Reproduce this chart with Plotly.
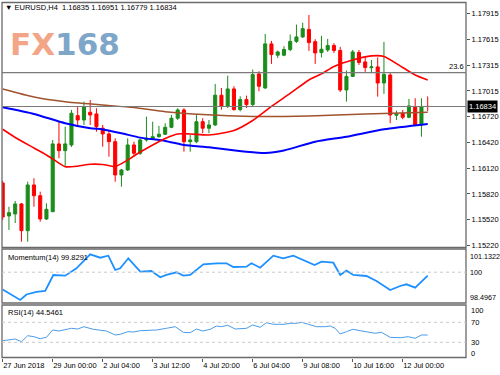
import plotly.graph_objects as go

# ---------------- data ----------------
bars = list(range(69))
opens = [1.15947,1.15565,1.15588,1.15704,1.15394,1.15924,1.15800,1.15530,1.15614,1.16400,
         1.16322,1.16388,1.16728,1.16678,1.16767,1.16748,1.16582,1.16516,1.16426,1.16040,
         1.16098,1.16388,1.16292,1.16446,1.16461,1.16484,1.16512,1.16593,1.16698,1.16794,
         1.16426,1.16426,1.16658,1.16582,1.16620,1.16965,1.16837,1.17038,1.16798,1.16914,
         1.16856,1.17212,1.17049,1.17560,1.17429,1.17429,1.17494,1.17589,1.17641,1.17728,
         1.17586,1.17459,1.17490,1.17542,1.17484,1.17026,1.17183,1.17461,1.17351,1.17284,
         1.17293,1.17107,1.17200,1.16733,1.16754,1.16709,1.16832,1.16620,1.16835]
highs = [1.15971,1.15672,1.15739,1.15715,1.15962,1.16002,1.15846,1.15712,1.16446,1.16658,
         1.16600,1.16794,1.16832,1.16890,1.16910,1.16814,1.16620,1.16562,1.16466,1.16110,
         1.16466,1.16426,1.16466,1.16716,1.16658,1.16609,1.16640,1.16736,1.16814,1.16814,
         1.16504,1.16736,1.16698,1.16678,1.17096,1.17049,1.17192,1.17069,1.16953,1.16960,
         1.17262,1.17243,1.17676,1.17595,1.17482,1.17533,1.17668,1.17784,1.17806,1.17896,
         1.17614,1.17653,1.17618,1.17568,1.17525,1.17252,1.17490,1.17490,1.17409,1.17374,
         1.17403,1.17583,1.17220,1.16786,1.16794,1.16922,1.16930,1.16930,1.16951]
lows = [1.15518,1.15402,1.15483,1.15266,1.15266,1.15672,1.15498,1.15518,1.15611,1.16234,
        1.16136,1.16365,1.16620,1.16620,1.16620,1.16542,1.16368,1.16252,1.15962,1.15904,
        1.16087,1.16252,1.16272,1.16426,1.16446,1.16473,1.16504,1.16582,1.16678,1.16310,
        1.16310,1.16408,1.16524,1.16524,1.16609,1.16798,1.16817,1.16786,1.16779,1.16817,
        1.16837,1.17011,1.17038,1.17328,1.17397,1.17417,1.17475,1.17571,1.17629,1.17479,
        1.17328,1.17403,1.17467,1.17455,1.17003,1.16890,1.17177,1.17316,1.17235,1.17220,
        1.16948,1.16980,1.16640,1.16678,1.16686,1.16698,1.16609,1.16484,1.16779]
closes = [1.15553,1.15603,1.15704,1.15394,1.15924,1.15800,1.15530,1.15642,1.16400,1.16322,
          1.16400,1.16756,1.16678,1.16832,1.16736,1.16600,1.16516,1.16426,1.16040,1.16098,
          1.16388,1.16292,1.16446,1.16466,1.16484,1.16512,1.16593,1.16698,1.16794,1.16426,
          1.16446,1.16658,1.16582,1.16620,1.16965,1.16837,1.17038,1.16798,1.16914,1.16856,
          1.17204,1.17069,1.17560,1.17436,1.17467,1.17496,1.17589,1.17641,1.17737,1.17575,
          1.17455,1.17498,1.17542,1.17484,1.17026,1.17183,1.17467,1.17345,1.17287,1.17293,
          1.17107,1.17206,1.16736,1.16748,1.16709,1.16841,1.16620,1.16832,1.16834]

red_ma_bar = [0,2,5,7,8,10,12,14,16,18,20,22,24,26,28,30,33,37,40,43,46,49,51,53,56,59,61,64,66,68]
red_ma_val = [1.16570,1.16475,1.16353,1.16272,1.16226,1.16136,1.16142,1.16164,1.16162,1.16139,
              1.16214,1.16307,1.16388,1.16464,1.16516,1.16516,1.16504,1.16556,1.16672,1.16835,
              1.16986,1.17142,1.17212,1.17299,1.17374,1.17421,1.17415,1.17287,1.17200,1.17142]
brown_ma_bar = [0,5,10,16,21,26,32,40,49,58,68]
brown_ma_val = [1.17038,1.16945,1.16890,1.16852,1.16821,1.16774,1.16740,1.16719,1.16725,1.16748,1.16767]
blue_ma_bar = [0,5,10,14,16,19,22,26,29,33,39,42,45,50,55,61,68]
blue_ma_val = [1.16825,1.16748,1.16640,1.16582,1.16568,1.16524,1.16473,1.16435,1.16388,1.16361,
               1.16310,1.16295,1.16324,1.16426,1.16484,1.16570,1.16632]

mom_bar = [0,1.2,2.8,3.8,5.4,6.8,8.1,10,11.8,14,15.6,16.9,18,18.8,20.1,22,23.8,25.2,26.2,27.8,
           28.9,30,32.1,34.2,35.8,36.9,39,39.8,41.2,43.3,44.9,46.5,48.6,49.9,51,52.9,54,55,56.1,
           58.2,59.8,62,63.6,64.6,66,68]
mom_val = [99.156,98.937,98.644,98.913,99.035,99.084,99.864,99.830,100.191,100.874,100.708,
           100.805,100.108,100.191,100.679,100.025,100.059,99.752,99.864,99.996,99.830,99.864,
           100.386,100.435,100.435,100.254,100.269,100.435,100.220,100.805,100.679,100.805,
           100.547,100.352,100.513,100.464,99.864,100.074,99.864,99.815,99.571,99.132,99.327,
           99.410,99.244,99.8291]

rsi_bar = [0,1,2,3,4,5,6,7,8,9,11,12,13,14.5,16.6,18,18.8,20,21,22,24.6,26.2,27.6,28.9,30,31,
           32,33.2,34.2,35,36,37.2,39,40,41.2,42.2,43.3,45,46,47,47.8,48.9,50.2,51.6,52.4,53.2,
           54,55,56,57.2,58.5,59.6,60.6,62,63.6,64.9,66,67,68]
rsi_val = [33.2,34.6,36.6,31.2,43.2,41.2,37.2,40.0,54.6,52.6,58.0,56.6,61.2,56.0,52.6,44.6,46.0,
           51.2,50.6,53.2,54.6,58.0,61.2,50.0,49.2,56.6,52.6,56.0,62.6,61.2,64.0,56.6,58.0,64.6,
           60.0,69.2,66.0,66.0,68.0,68.0,70.0,66.0,61.2,61.2,62.6,58.0,46.6,51.2,56.0,53.2,51.2,
           48.0,50.0,40.0,39.2,41.2,38.0,44.6,44.5461]

price_ticks = [1.17915,1.17615,1.17315,1.17015,1.16720,1.16420,1.16120,1.15820,1.15520,1.15220]
date_tick_bars = [0,8,16,24,32,40,48,56,64]
date_tick_labels = ["27 Jun 2018","29 Jun 00:00","2 Jul 04:00","3 Jul 12:00","4 Jul 20:00",
                    "6 Jul 04:00","9 Jul 08:00","10 Jul 16:00","12 Jul 00:00"]
header_text = "EURUSD,H4  1.16835 1.16951 1.16779 1.16834"
last_price_text = "1.16834"
last_price = 1.16834
fib_level = 1.17227
fib_label = "23.6"
mom_title = "Momentum(14) 99.8291"
rsi_title = "RSI(14) 44.5461"
mom_labels = ["101.1322", "100", "98.4967"]
mom_min, mom_max, mom_mid = 98.4967, 101.1322, 100
rsi_levels = [70, 30]
rsi_labels = ["100", "70", "30", "0"]

# ---------------- layout helpers ----------------
W, H = 500, 375
def px_x(p): return p / W
def px_y(p): return 1 - p / H

X0, X1 = 2, 466
MAIN = (2.5, 247.5)
MOM = (249, 303)
RSI = (305, 357.5)
FONT = "Liberation Sans, Arial, sans-serif"
FS = 7.5

fig = go.Figure()
fig.add_trace(go.Candlestick(
    x=bars, open=opens, high=highs, low=lows, close=closes,
    increasing=dict(line=dict(color="#1b8c1b", width=1), fillcolor="#1b8c1b"),
    decreasing=dict(line=dict(color="#ff0000", width=1), fillcolor="#ff0000"),
    whiskerwidth=0, xaxis="x", yaxis="y", showlegend=False, hoverinfo="skip"))
fig.add_trace(go.Scatter(x=brown_ma_bar, y=brown_ma_val, mode="lines", line=dict(color="#a0522d", width=1.5, shape="spline", smoothing=0.6), xaxis="x", yaxis="y", showlegend=False))
fig.add_trace(go.Scatter(x=blue_ma_bar, y=blue_ma_val, mode="lines", line=dict(color="#0000ff", width=2, shape="spline", smoothing=0.6), xaxis="x", yaxis="y", showlegend=False))
fig.add_trace(go.Scatter(x=red_ma_bar, y=red_ma_val, mode="lines", line=dict(color="#ff0000", width=1.6, shape="spline", smoothing=0.6), xaxis="x", yaxis="y", showlegend=False))
fig.add_trace(go.Scatter(x=mom_bar, y=mom_val, mode="lines", line=dict(color="#1e90ff", width=1.8), xaxis="x2", yaxis="y2", showlegend=False))
fig.add_trace(go.Scatter(x=rsi_bar, y=rsi_val, mode="lines", line=dict(color="#4a9be8", width=1), xaxis="x3", yaxis="y3", showlegend=False))

xr = [(X0 - 2.7) / 6.25, (X1 - 2.7) / 6.25]
xdom = [px_x(X0), px_x(X1)]
base_x = dict(domain=xdom, range=xr, showgrid=False, zeroline=False, showline=False, fixedrange=True)
axis_font = dict(family=FONT, size=FS, color="#000000")

fig.update_layout(
    width=W, height=H, margin=dict(l=0, r=0, t=0, b=0),
    paper_bgcolor="white", plot_bgcolor="white", showlegend=False,
    xaxis=dict(**base_x, anchor="y", showticklabels=False, ticks="", rangeslider=dict(visible=False)),
    xaxis2=dict(**base_x, anchor="y2", showticklabels=False, ticks=""),
    xaxis3=dict(**base_x, anchor="y3", tickmode="array", tickvals=date_tick_bars, ticktext=date_tick_labels,
                ticks="outside", ticklen=3, tickcolor="#555", ticklabelposition="outside right",
                tickangle=0, tickfont=axis_font),
    yaxis=dict(domain=[px_y(MAIN[1]), px_y(MAIN[0])], range=[1.15199, 1.18040], side="right",
               anchor="x", tickmode="array", tickvals=price_ticks,
               ticktext=[f"{v:.5f}" for v in price_ticks], ticks="outside", ticklen=3, tickcolor="#555",
               tickfont=axis_font, showgrid=False, zeroline=False, automargin=False),
    yaxis2=dict(domain=[px_y(MOM[1]), px_y(MOM[0])], range=[mom_min, mom_max], anchor="x2",
                showticklabels=False, ticks="", showgrid=False, zeroline=False),
    yaxis3=dict(domain=[px_y(RSI[1]), px_y(RSI[0])], range=[-0.4, 104.6], anchor="x3",
                showticklabels=False, ticks="", showgrid=False, zeroline=False),
)

shapes = []
for top, bot in (MAIN, MOM, RSI):
    shapes.append(dict(type="rect", xref="paper", yref="paper", x0=px_x(X0), x1=px_x(X1),
                       y0=px_y(bot), y1=px_y(top), line=dict(color="#6a6a6a", width=1.3)))
for lvl in (last_price, fib_level):
    shapes.append(dict(type="line", xref="paper", yref="y", x0=px_x(X0), x1=px_x(X1), y0=lvl, y1=lvl,
                       line=dict(color="#7a7a7a", width=1.2)))
shapes.append(dict(type="line", xref="paper", yref="y2", x0=px_x(X0), x1=px_x(X1), y0=mom_mid, y1=mom_mid,
                   line=dict(color="#c8c8c8", width=1, dash="dot")))
for lvl in rsi_levels:
    shapes.append(dict(type="line", xref="paper", yref="y3", x0=px_x(X0), x1=px_x(X1), y0=lvl, y1=lvl,
                       line=dict(color="#c8c8c8", width=1, dash="dot")))
fig.update_layout(shapes=shapes)

ann = []
ann.append(dict(xref="paper", yref="paper", x=px_x(3), y=px_y(8), xanchor="left", yanchor="middle",
                text="▼ " + header_text, showarrow=False, font=dict(family=FONT, size=FS, color="#000")))
ann.append(dict(xref="paper", yref="paper", x=px_x(8), y=px_y(44), xanchor="left", yanchor="middle",
                text="<b><span style='color:#f2a587'>FX</span><span style='color:#7ea6c9'>168</span></b>",
                showarrow=False, font=dict(family="DejaVu Sans", size=31)))
ann.append(dict(xref="paper", yref="y", x=px_x(466), y=fib_level, xanchor="right", yanchor="bottom",
                text=fib_label, showarrow=False, font=axis_font))
ann.append(dict(xref="paper", yref="y", x=px_x(467), y=last_price, xanchor="left", yanchor="middle",
                text=last_price_text, showarrow=False, bgcolor="#000", borderpad=1,
                font=dict(family=FONT, size=FS, color="#fff")))
ann.append(dict(xref="paper", yref="paper", x=px_x(6), y=px_y(257), xanchor="left", yanchor="middle",
                text=mom_title, showarrow=False, font=axis_font))
ann.append(dict(xref="paper", yref="paper", x=px_x(6), y=px_y(312), xanchor="left", yanchor="middle",
                text=rsi_title, showarrow=False, font=axis_font))
for txt, ypx in zip(mom_labels, (256.7, 272.7, 297.3)):
    ann.append(dict(xref="paper", yref="paper", x=px_x(467.5), y=px_y(ypx), xanchor="left", yanchor="middle",
                    text=txt, showarrow=False, font=dict(family=FONT, size=7.2, color="#000")))
for txt, ypx in zip(rsi_labels, (310.7, 322.3, 342.3, 353.3)):
    ann.append(dict(xref="paper", yref="paper", x=px_x(469), y=px_y(ypx), xanchor="left", yanchor="middle",
                    text=txt, showarrow=False, font=axis_font))
fig.update_layout(annotations=ann)

fig.write_html("out.html")
